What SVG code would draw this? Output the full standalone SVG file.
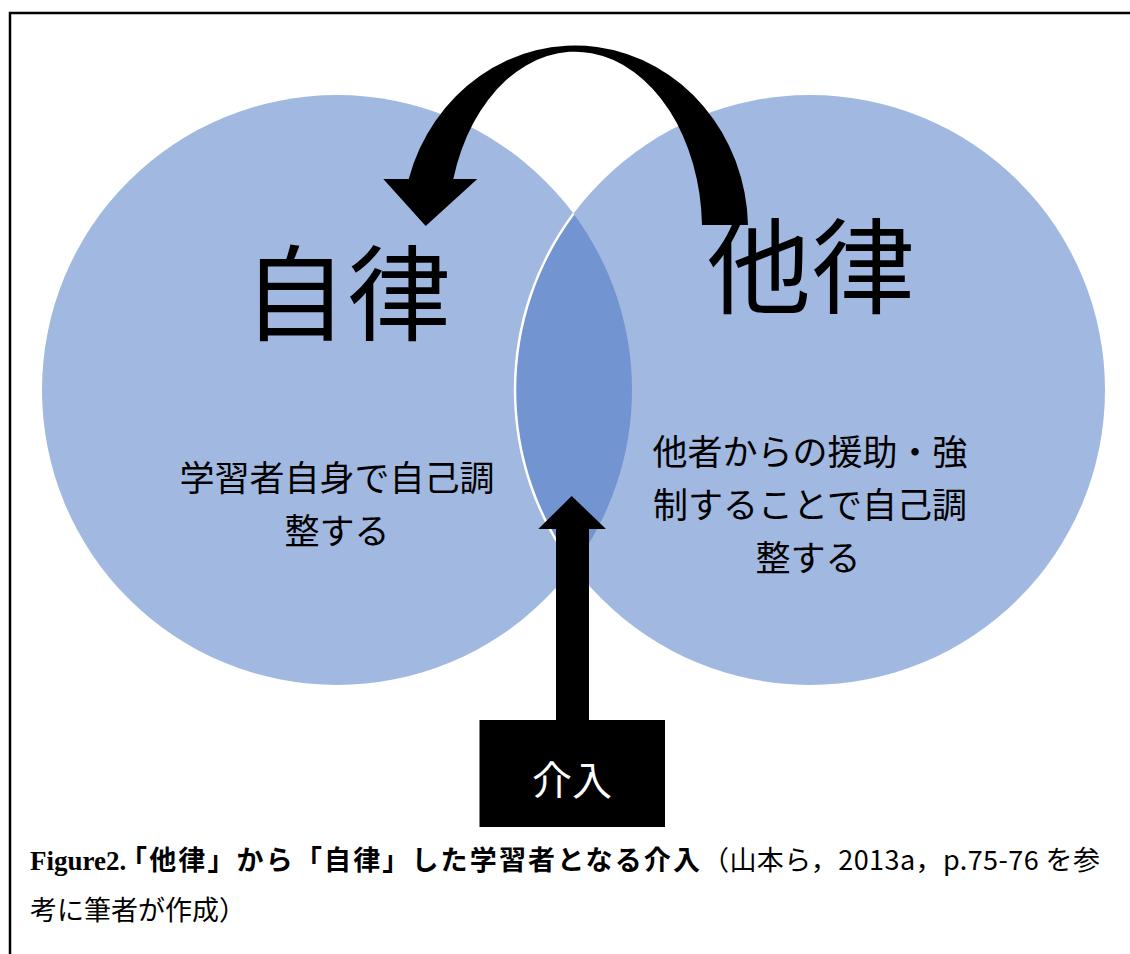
<svg xmlns="http://www.w3.org/2000/svg" width="1130" height="954" viewBox="0 0 1130 954">
<style>
.jp{font-family:"Noto Sans CJK JP","Noto Sans CJK SC",sans-serif;fill:#000}
.big{font-size:104px}
.mid{font-size:35px}
.cap{font-size:27px}
.capb{font-weight:bold}
.circle{fill:#A1B8E0}
</style>
<rect x="0" y="0" width="1130" height="954" fill="#ffffff"/>
<g id="frame" fill="none" stroke="#000" stroke-width="2.5">
<path d="M10,954 V13 H1130"/>
</g>
<g id="left-circle">
<circle class="circle" cx="337" cy="390" r="295"/>
</g>
<g id="right-circle">
<circle class="circle" cx="810" cy="390" r="295"/>
</g>
<g id="overlap">
<path d="M573.5,213.7 A295,295 0 0 0 573.5,566.3 A295,295 0 0 0 573.5,213.7 Z" fill="#7294D0"/>
<path d="M573.5,213.7 A295,295 0 0 0 573.5,566.3" fill="none" stroke="#ffffff" stroke-width="2.5"/>
</g>
<g id="connectors">
<path id="curved-arrow" d="M748,225 A173,184 0 0 0 408.7,179 L383.3,179 L425.7,226 L477.3,179 L453.3,179 A127,178 0 0 1 702,225 Z" fill="#000"/>
<path id="up-arrow" d="M571.7,496 L606,529 L589,529 L589,721 L556,721 L556,529 L538.3,529 Z" fill="#000"/>
</g>
<g id="node-jiritsu">
<text class="jp big" x="347" y="333" text-anchor="middle">自律</text>
<text class="jp mid" x="337" y="491" text-anchor="middle">学習者自身で自己調</text>
<text class="jp mid" x="337" y="544" text-anchor="middle">整する</text>
</g>
<g id="node-taritsu">
<text class="jp big" x="811" y="306" text-anchor="middle">他律</text>
<text class="jp mid" x="810" y="465" text-anchor="middle">他者からの援助・強</text>
<text class="jp mid" x="810" y="518" text-anchor="middle">制することで自己調</text>
<text class="jp mid" x="808" y="571" text-anchor="middle">整する</text>
</g>
<g id="node-kainyu">
<rect x="479.5" y="720" width="185.5" height="107" fill="#000"/>
<text class="jp" x="572" y="795" text-anchor="middle" font-size="40" style="fill:#fff">介入</text>
</g>
<g id="caption">
<text class="cap" y="870"><tspan x="30" class="capb" font-family="Liberation Serif, serif">Figure2.</tspan><tspan x="120" class="jp capb" textLength="580" lengthAdjust="spacing">「他律」から「自律」した学習者となる介入</tspan><tspan x="702" class="jp" textLength="398" lengthAdjust="spacing">（山本ら，2013a，p.75-76 を参</tspan></text>
<text class="jp cap" x="30" y="920">考に筆者が作成）</text>
</g>
</svg>
